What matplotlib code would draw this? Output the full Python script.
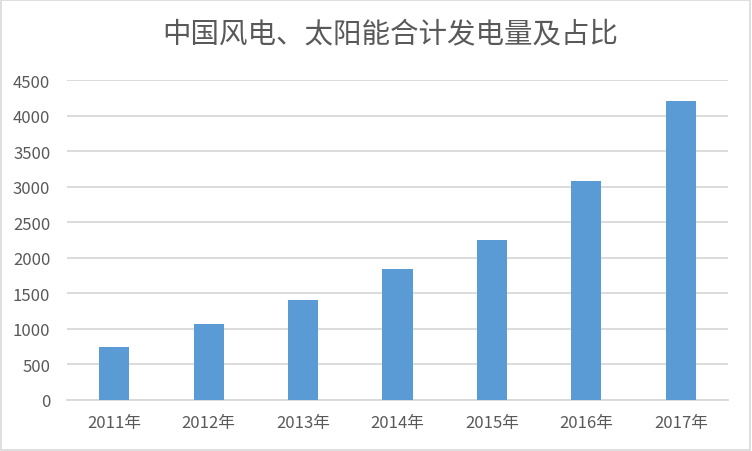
import matplotlib.pyplot as plt
from matplotlib.patches import Rectangle

plt.rcParams['font.family'] = ['Noto Sans CJK SC', 'DejaVu Sans']

years = ['2011年', '2012年', '2013年', '2014年', '2015年', '2016年', '2017年']
output = [741, 1064, 1402, 1838, 2246, 3075, 4200]
yticks = [0, 500, 1000, 1500, 2000, 2500, 3000, 3500, 4000, 4500]

text_color = '#595959'
grid_color = '#D9D9D9'

fig = plt.figure(figsize=(7.52, 4.52), dpi=100)
ax = fig.add_axes([67/752, 51/452, 661/752, 320/452])

x = range(len(years))
ax.bar(x, output, width=0.32, color='#5B9BD5', zorder=3)

ax.set_xlim(-0.5, len(years) - 0.5)
ax.set_ylim(0, 4500)
ax.set_yticks(yticks)
ax.set_xticks(list(x))
ax.set_xticklabels(years)
ax.yaxis.grid(True, color=grid_color, linewidth=1.3, zorder=0)
ax.tick_params(axis='both', length=0, labelsize=12, labelcolor=text_color)
ax.tick_params(axis='y', pad=12)
ax.tick_params(axis='x', pad=10)
for side in ['top', 'right', 'left']:
    ax.spines[side].set_visible(False)
ax.spines['bottom'].set_color(grid_color)
ax.spines['bottom'].set_linewidth(1.3)

fig.text(0.519, 1 - 35/452, '中国风电、太阳能合计发电量及占比', ha='center', va='center',
         fontsize=20.5, color=text_color)

fig.patches.append(Rectangle((0.001, 0.002), 0.997, 0.996, transform=fig.transFigure,
                             fill=False, edgecolor=grid_color, linewidth=1.2))

plt.savefig('out.png', dpi=100)
